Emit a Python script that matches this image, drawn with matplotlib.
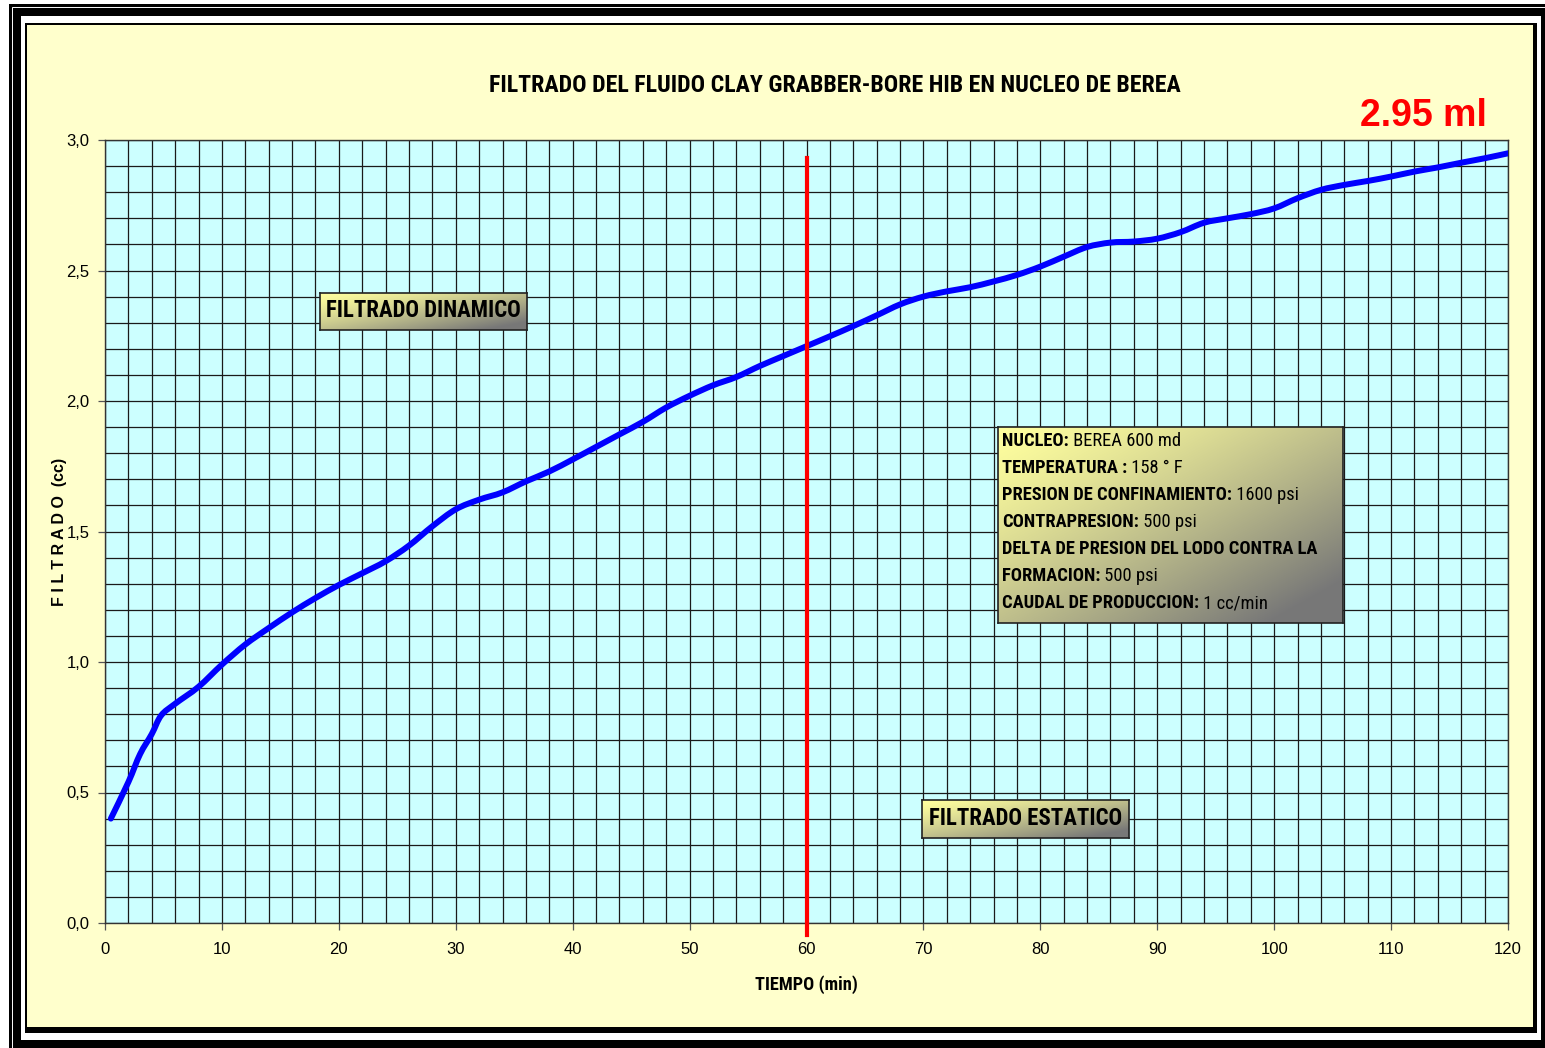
import matplotlib
matplotlib.use("Agg")
import matplotlib.pyplot as plt
import numpy as np
from matplotlib import font_manager
from matplotlib.patches import Rectangle, PathPatch
from matplotlib.path import Path
from matplotlib.ticker import MultipleLocator, FuncFormatter

# ---------------- data ----------------
tiempo = [0.5, 2, 3, 4, 4.8, 6, 8, 10, 12, 14, 16, 18, 20, 22, 24, 26, 28, 30,
          32, 34, 36, 38, 40, 42, 44, 46, 48, 50, 52, 54, 56, 58, 60, 62, 64,
          66, 68, 70, 72, 74, 76, 78, 80, 82, 84, 86, 88, 90, 92, 94, 96, 98,
          100, 102, 104, 106, 108, 110, 112, 114, 116, 118, 120]
filtrado = [0.40, 0.54, 0.647, 0.724, 0.795, 0.84, 0.905, 0.99, 1.067, 1.13,
            1.19, 1.245, 1.295, 1.34, 1.386, 1.446, 1.52, 1.585, 1.622, 1.65,
            1.692, 1.73, 1.776, 1.824, 1.872, 1.92, 1.975, 2.02, 2.06, 2.092,
            2.134, 2.172, 2.21, 2.248, 2.287, 2.328, 2.37, 2.40, 2.42, 2.436,
            2.458, 2.483, 2.515, 2.553, 2.59, 2.607, 2.611, 2.622, 2.647, 2.683,
            2.70, 2.716, 2.738, 2.777, 2.809, 2.828, 2.843, 2.86, 2.879, 2.895,
            2.913, 2.93, 2.949]
corte_x = 60
titulo = "FILTRADO DEL FLUIDO CLAY GRABBER-BORE HIB EN NUCLEO DE BEREA"
etiqueta_final = "2.95 ml"
info_lines = [("NUCLEO:", " BEREA 600 md"),
              ("TEMPERATURA :", " 158 ° F"),
              ("PRESION DE CONFINAMIENTO:", " 1600 psi"),
              ("CONTRAPRESION:", " 500 psi"),
              ("DELTA DE PRESION DEL LODO CONTRA LA", ""),
              ("FORMACION:", " 500 psi"),
              ("CAUDAL DE PRODUCCION:", " 1 cc/min")]

# ---------------- fonts ----------------
names = {f.name for f in font_manager.fontManager.ttflist}
NARROW = ["Liberation Sans Narrow"] if "Liberation Sans Narrow" in names else ["Roboto Condensed"] if "Roboto Condensed" in names else ["Liberation Sans"]
HAS_NARROW = NARROW[0] != "Liberation Sans"
plt.rcParams['font.family'] = ['Liberation Sans', 'DejaVu Sans']

W, H = 1545, 1048
fig = plt.figure(figsize=(W / 100, H / 100), dpi=100, facecolor="white")


def fx(x):
    return x / W


def fy(y):
    return 1 - y / H


def frect(x0, y0, x1, y1, **kw):
    r = Rectangle((fx(x0), fy(y1)), fx(x1) - fx(x0), fy(y0) - fy(y1),
                  transform=fig.transFigure, **kw)
    fig.patches.append(r)
    return r

# frames
frect(9, 4, 1545, 1048, facecolor="black", edgecolor="none", zorder=-20)
frect(12, 7, 1545, 1048, facecolor="none", edgecolor="white", linewidth=0.7, zorder=-19)
frect(21, 16, 1541, 1040, facecolor="white", edgecolor="none", zorder=-18)
frect(25, 23, 1537, 1033, facecolor="black", edgecolor="none", zorder=-17)
frect(27, 25, 1533, 1027, facecolor="#FFFFCC", edgecolor="none", zorder=-16)

# ---------------- main axes ----------------
L, R, T, B = 105, 1508, 140, 923
ax = fig.add_axes([fx(L), fy(B), fx(R) - fx(L), fy(T) - fy(B)])
ax.set_facecolor("#CCFFFF")
ax.set_xlim(0, 120)
ax.set_ylim(0, 3.0)
ax.xaxis.set_major_locator(MultipleLocator(10))
ax.xaxis.set_minor_locator(MultipleLocator(2))
ax.yaxis.set_major_locator(MultipleLocator(0.5))
ax.yaxis.set_minor_locator(MultipleLocator(0.1))
ax.yaxis.set_major_formatter(FuncFormatter(lambda v, p: f"{v:.1f}".replace(".", ",")))
ax.grid(which="both", color="#1a1a1a", linewidth=0.9)
ax.set_axisbelow(True)
ax.tick_params(which="major", direction="out", length=5, width=0.9, color="#555555",
               labelsize=12, pad=6)
ax.tick_params(axis="x", which="major", pad=9)
ax.tick_params(which="minor", length=0)
for s in ax.spines.values():
    s.set_color("#333333")
    s.set_linewidth(1.0)

# smoothed line through the data points (Catmull-Rom as cubic Bezier, like Excel)
P = np.column_stack([tiempo, filtrado]).astype(float)
verts = [P[0]]
codes = [Path.MOVETO]
n = len(P)
for i in range(n - 1):
    p0 = P[i - 1] if i > 0 else P[i]
    p1, p2 = P[i], P[i + 1]
    p3 = P[i + 2] if i + 2 < n else P[i + 1]
    c1 = p1 + (p2 - p0) / 6.0
    c2 = p2 - (p3 - p1) / 6.0
    verts += [c1, c2, p2]
    codes += [Path.CURVE4] * 3
curve = PathPatch(Path(verts, codes), facecolor="none", edgecolor="#0000FF",
                  linewidth=4.3, capstyle="round", joinstyle="round", zorder=4,
                  transform=ax.transData)
ax.add_patch(curve)
ax.plot(tiempo, filtrado, color="#0000FF", linewidth=0, zorder=4)

ax.plot([corte_x, corte_x], [2.93, -0.046], color="#FF0000", linewidth=3.0,
        clip_on=False, zorder=5)

narrow_kw = dict(family=NARROW + ['DejaVu Sans'], fontweight="bold")
tsize = 17.2 if HAS_NARROW else 12.5

fig.text(fx(835), fy(85), titulo, ha="center", va="center", fontsize=tsize, **narrow_kw)
fig.text(fx(806), fy(985), "TIEMPO (min)", ha="center", va="center",
         fontsize=13.2 if HAS_NARROW else 11.5, **narrow_kw)
fig.text(fx(60), fy(532), "F I L T R A D O  (cc)", ha="center", va="center", rotation=90,
         fontsize=11.5, fontweight="bold")
fig.text(fx(1487), fy(116), etiqueta_final, ha="right", va="center", fontsize=27,
         fontweight="bold", color="#FF0000")

# ---------------- gradient boxes ----------------
def grad_box(x0, y0, x1, y1):
    bax = fig.add_axes([fx(x0), fy(y1), fx(x1) - fx(x0), fy(y0) - fy(y1)], zorder=10)
    m = 200
    u = np.linspace(0, 1, m)
    v = np.linspace(0, 1, m)
    U, V = np.meshgrid(u, v)
    t = np.clip((U * 0.9 + V * 0.9) / 1.6, 0, 1) ** 1.3
    c0 = np.array([1.0, 1.0, 0.62])
    c1 = np.array([0.47, 0.47, 0.47])
    img = c0[None, None, :] * (1 - t[..., None]) + c1[None, None, :] * t[..., None]
    bax.imshow(img, extent=[0, 1, 0, 1], aspect="auto", origin="upper")
    bax.set_xlim(0, 1)
    bax.set_ylim(0, 1)
    bax.set_xticks([])
    bax.set_yticks([])
    for s in bax.spines.values():
        s.set_color("#222222")
        s.set_linewidth(1.2)
    return bax

bsize = 16.4 if HAS_NARROW else 14
b1 = grad_box(320, 293, 527, 330)
b1.text(0.5, 0.52, "FILTRADO DINAMICO", ha="center", va="center", fontsize=bsize,
        **narrow_kw)
b2 = grad_box(922, 800, 1129, 838)
b2.text(0.5, 0.52, "FILTRADO ESTATICO", ha="center", va="center", fontsize=bsize,
        **narrow_kw)
b3 = grad_box(998, 427, 1343, 623)

isize = 13.3 if HAS_NARROW else 10.5
renderer = fig.canvas.get_renderer()
y_lines = [441, 468, 495, 522, 549, 576, 603]
for (bold, reg), yl in zip(info_lines, y_lines):
    t1 = fig.text(fx(1002), fy(yl), bold, ha="left", va="center", fontsize=isize,
                  zorder=20, **narrow_kw)
    if reg:
        bb = t1.get_window_extent(renderer=renderer)
        fig.text(bb.x1 / W, fy(yl), reg, ha="left", va="center", fontsize=isize,
                 family=NARROW + ['DejaVu Sans'], zorder=20)

fig.savefig("out.png", dpi=100, facecolor="white")
